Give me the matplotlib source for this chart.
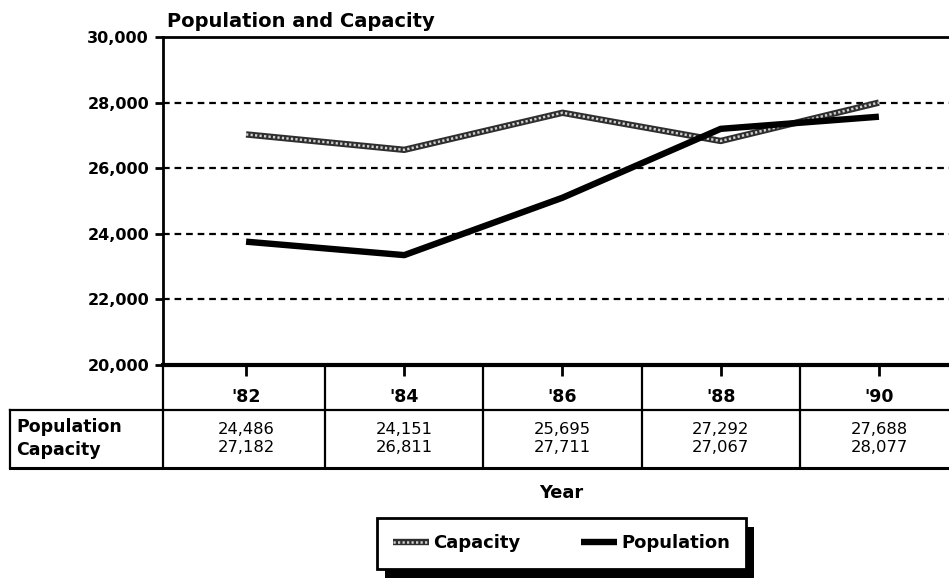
import matplotlib
matplotlib.use('Agg')
from matplotlib import pyplot as plt
from matplotlib.patches import Rectangle
import numpy as np

# values
years = ["'82", "'84", "'86", "'88", "'90"]
population_line = [23760, 23350, 25100, 27200, 27570]
capacity_line = [27030, 26560, 27690, 26830, 28000]

# values printed in the data table
population_table = ['24,486', '24,151', '25,695', '27,292', '27,688']
capacity_table = ['27,182', '26,811', '27,711', '27,067', '28,077']

W, H = 949, 578
fig = plt.figure(figsize=(W / 100, H / 100), dpi=100)

x = np.arange(len(years))
x0, x1 = -0.525, 4.5

# main chart
ax = fig.add_axes([163 / W, 213 / H, 795 / W, 328 / H])
ax.set_xlim(x0, x1)
ax.set_ylim(20000, 30000)

cap_base, = ax.plot(x, capacity_line, color='#2e2e2e', lw=4.6, solid_capstyle='butt', zorder=3)
cap_dots, = ax.plot(x, capacity_line, color='#cfcfcf', lw=1.8, ls=(0, (0.9, 0.9)),
                    solid_capstyle='butt', zorder=3)
pop, = ax.plot(x, population_line, color='black', lw=4.6, solid_capstyle='butt', zorder=4)

ax.set_yticks(np.arange(20000, 30001, 2000))
ax.set_yticklabels([f'{v:,}' for v in range(20000, 30001, 2000)],
                   fontsize=11.5, fontweight='bold')
ax.tick_params(axis='y', direction='out', length=6, width=2, pad=4)
ax.set_xticks(x)
ax.set_xticklabels([])
ax.tick_params(axis='x', direction='out', length=8, width=2)
for v in range(22000, 30000, 2000):
    ax.axhline(v, color='black', lw=1.6, ls=(0, (3, 2.2)), zorder=1)

ax.spines['right'].set_visible(False)
ax.spines['left'].set_linewidth(2)
ax.spines['top'].set_linewidth(2)
ax.spines['bottom'].set_linewidth(3)

fig.text(167 / W, 1 - 27 / H, 'Population and Capacity', fontsize=14,
         fontweight='bold', va='baseline', ha='left')

# data table under the chart
tax = fig.add_axes([163 / W, 110 / H, 795 / W, 103 / H])
tax.set_xlim(x0, x1)
tax.set_ylim(0, 103)
tax.axis('off')
tax.patch.set_visible(False)

left_edge = (10 - 163) / 158.2 + x0
for b in [x0, 0.5, 1.5, 2.5, 3.5, 4.5]:
    tax.plot([b, b], [0, 103], color='black', lw=1.6, clip_on=False)
tax.plot([left_edge, left_edge], [0, 58], color='black', lw=1.6, clip_on=False)
tax.plot([left_edge, x1 + 0.1], [58, 58], color='black', lw=1.6, clip_on=False)
tax.plot([left_edge, x1 + 0.1], [0.5, 0.5], color='black', lw=2.2, clip_on=False)

for i, yr in enumerate(years):
    tax.text(i, 66, yr, ha='center', va='baseline', fontsize=12.5, fontweight='bold')
    tax.text(i, 33.5, population_table[i], ha='center', va='baseline', fontsize=11.8)
    tax.text(i, 15.5, capacity_table[i], ha='center', va='baseline', fontsize=11.8)

lab_x = (16 - 163) / 158.2 + x0
tax.text(lab_x, 35.5, 'Population', ha='left', va='baseline', fontsize=12.5,
         fontweight='bold', clip_on=False)
tax.text(lab_x, 13, 'Capacity', ha='left', va='baseline', fontsize=12.5,
         fontweight='bold', clip_on=False)

fig.text(561.5 / W, 1 - 498 / H, 'Year', ha='center', va='baseline',
         fontsize=12.8, fontweight='bold')

# legend with a hard black shadow
leg = fig.legend([(cap_base, cap_dots), pop], ['Capacity', 'Population'],
                 loc='center', bbox_to_anchor=(561.5 / W, 1 - 543.5 / H),
                 ncol=2, frameon=True, fancybox=False, edgecolor='black',
                 framealpha=1, prop={'weight': 'bold', 'size': 13},
                 handlelength=2.0, handletextpad=0.2, columnspacing=3.4,
                 borderpad=0.9)
leg.get_frame().set_linewidth(2)
leg.set_zorder(6)

fig.canvas.draw()
bb = leg.get_window_extent()
shadow = Rectangle((bb.x0 + 8, bb.y0 - 9), bb.width, bb.height, transform=None,
                   facecolor='black', edgecolor='none', zorder=5)
fig.patches.append(shadow)

fig.savefig('out.png', dpi=100)
